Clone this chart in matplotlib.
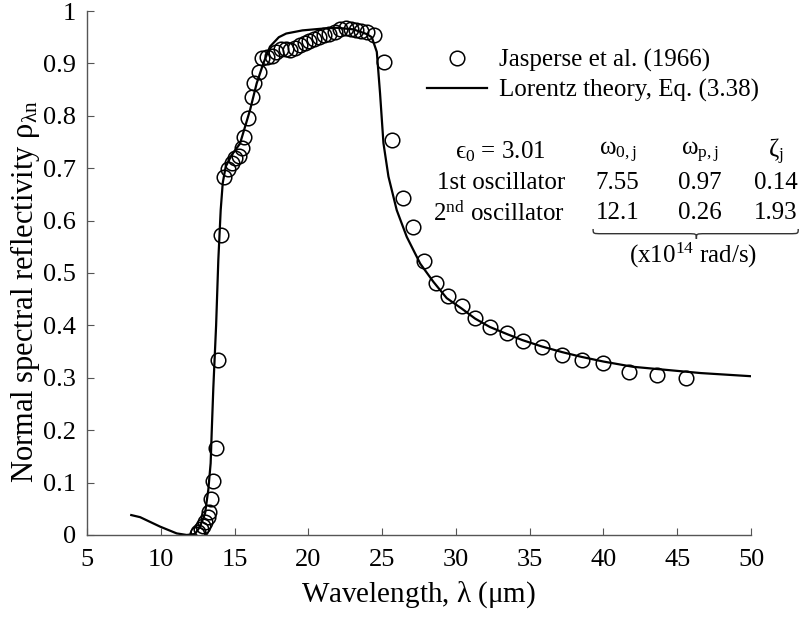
import numpy as np
import matplotlib
matplotlib.use("Agg")
import matplotlib.pyplot as plt
from matplotlib.path import Path
from matplotlib.patches import PathPatch

plt.rcParams["font.family"] = ["Liberation Serif", "DejaVu Serif"]
plt.rcParams["mathtext.fontset"] = "custom"
plt.rcParams["mathtext.rm"] = "Liberation Serif"
plt.rcParams["mathtext.it"] = "Liberation Serif:italic"

# measured reflectivity (Jasperse et al. 1966)
meas_wl = [12.44, 12.55, 12.71, 12.84, 13.00, 13.18, 13.27, 13.41, 13.52, 13.75,
           13.90, 14.06, 14.29, 14.58, 14.81, 15.03, 15.30, 15.49, 15.64, 15.89,
           16.16, 16.34, 16.66, 16.89, 17.18, 17.52, 17.81, 18.13, 18.47, 18.76,
           19.10, 19.44, 19.78, 20.07, 20.41, 20.75, 21.09, 21.43, 21.81, 22.15,
           22.54, 22.87, 23.23, 23.55, 23.96, 24.46, 25.10, 25.70, 26.40, 27.12,
           27.87, 28.66, 29.47, 30.40, 31.31, 32.32, 33.45, 34.54, 35.82, 37.18,
           38.54, 40.00, 41.76, 43.62, 45.61]
meas_refl = [0.002, 0.006, 0.011, 0.018, 0.025, 0.035, 0.044, 0.069, 0.103, 0.166,
             0.334, 0.572, 0.683, 0.698, 0.709, 0.719, 0.724, 0.738, 0.760, 0.795,
             0.835, 0.863, 0.884, 0.910, 0.912, 0.915, 0.922, 0.927, 0.927, 0.926,
             0.930, 0.935, 0.938, 0.943, 0.947, 0.951, 0.954, 0.957, 0.960, 0.966,
             0.968, 0.966, 0.964, 0.962, 0.959, 0.955, 0.903, 0.754, 0.643, 0.588,
             0.523, 0.480, 0.456, 0.437, 0.415, 0.396, 0.385, 0.371, 0.359, 0.344,
             0.333, 0.328, 0.312, 0.305, 0.300]

# Lorentz two-oscillator fit
lor_wl = [8.0, 8.6, 9.95, 11.08, 11.76, 12.32, 12.66, 13.0, 13.22, 13.38,
          13.45, 13.56, 13.75, 13.9, 14.06, 14.2, 14.4, 14.8, 15.37, 16.05,
          16.5, 16.95, 17.4, 18.0, 18.5, 19.6, 20.8, 21.9, 23.05, 23.96,
          24.3, 24.64, 24.86, 25.09, 25.43, 25.99, 26.67, 27.58, 28.48, 29.38,
          30.4, 31.3, 32.3, 33.5, 34.5, 35.8, 37.2, 38.5, 40.0, 42.0,
          44.3, 46.6, 50.0]
lor_refl = [0.038, 0.034, 0.016, 0.003, 0.0, 0.002, 0.016, 0.041, 0.086, 0.137,
            0.195, 0.28, 0.40, 0.525, 0.62, 0.672, 0.703, 0.725, 0.747, 0.811,
            0.862, 0.90, 0.932, 0.950, 0.957, 0.963, 0.966, 0.968, 0.965, 0.956,
            0.950, 0.922, 0.843, 0.748, 0.684, 0.620, 0.569, 0.518, 0.483, 0.452,
            0.432, 0.413, 0.397, 0.383, 0.372, 0.360, 0.349, 0.340, 0.331, 0.321,
            0.315, 0.309, 0.303]

col_heads = [r"$\mathrm{\omega_{0,j}}$", r"$\mathrm{\omega_{p,j}}$", r"$\mathrm{\zeta_j}$"]
row_names = ["1st oscillator", r"2$^{\mathrm{nd}}$ oscillator"]
osc_vals = [["7.55", "0.97", "0.14"],
            ["12.1", "0.26", "1.93"]]

fig = plt.figure(figsize=(8, 6.22), dpi=100)
ax = fig.add_axes([0.10875, 0.1399, 0.83, 0.8424])

ax.plot(lor_wl, lor_refl, color="black", lw=1.6, label="Lorentz theory, Eq. (3.38)")
ax.plot(meas_wl, meas_refl, linestyle="none", marker="o", ms=10.5, mfc="none",
        mec="black", mew=1.1, label="Jasperse et al. (1966)")

ax.set_xlim(5, 50)
ax.set_ylim(0, 1)
ax.set_xticks(range(5, 51, 5))
ax.set_yticks(np.arange(0, 1.01, 0.1))
ax.set_yticklabels(["0"] + [f"{v:.1f}" for v in np.arange(0.1, 0.95, 0.1)] + ["1"])
for s in ["top", "right"]:
    ax.spines[s].set_visible(False)
for s in ["left", "bottom"]:
    ax.spines[s].set_color("#555555")
    ax.spines[s].set_linewidth(1.0)
ax.tick_params(direction="in", length=5, color="#555555", labelsize=19)
ax.tick_params(axis="x", pad=10)
ax.tick_params(axis="y", pad=8)

ax.set_xlabel(r"Wavelength, $\mathrm{\lambda}$ ($\mathrm{\mu}$m)", fontsize=21, labelpad=6)
ax.set_ylabel(r"Normal spectral reflectivity $\mathrm{\rho_{\lambda n}}$", fontsize=22)
ax.yaxis.set_label_coords(-0.068, 0.465)

h, l = ax.get_legend_handles_labels()
fig.legend(h[::-1], l[::-1], loc="upper left", bbox_to_anchor=(427 / 800, 1 - 49 / 622),
           frameon=False, fontsize=18, handlelength=2.4, handletextpad=0.5,
           labelspacing=0.28, borderpad=0, borderaxespad=0)

# oscillator parameter table
fs = 18
ax.text(33.0, 0.731, "\u03f5$_\\mathrm{0}$ = 3.01", fontsize=fs, ha="center", va="center")
col_x = [40.95, 46.55, 51.7]
for x, txt in zip(col_x, col_heads):
    ax.text(x, 0.731, txt, fontsize=fs, ha="center", va="center", clip_on=False)
for r, (name, vals) in enumerate(zip(row_names, osc_vals)):
    y = 0.672 - r * 0.058
    ax.text(37.4, y, name, fontsize=fs, ha="right", va="center")
    for x, v in zip(col_x, vals):
        ax.text(x, y, v, fontsize=fs, ha="center", va="center", clip_on=False)

# curly brace under the oscillator columns
x0, x1, xm = 39.3, 53.2, 46.3
yt, yf, yb = 0.584, 0.575, 0.565
dx = 0.6
verts = [(x0, yt), (x0, yf), (x0, yf), (x0 + dx, yf),
         (xm - dx, yf), (xm, yf), (xm, yf), (xm, yb),
         (xm, yf), (xm, yf), (xm + dx, yf),
         (x1 - dx, yf), (x1, yf), (x1, yf), (x1, yt)]
codes = [Path.MOVETO, Path.CURVE4, Path.CURVE4, Path.CURVE4,
         Path.LINETO, Path.CURVE4, Path.CURVE4, Path.CURVE4,
         Path.CURVE4, Path.CURVE4, Path.CURVE4,
         Path.LINETO, Path.CURVE4, Path.CURVE4, Path.CURVE4]
ax.add_patch(PathPatch(Path(verts, codes), fill=False, lw=1.0, ec="#333333", clip_on=False))
ax.text(46.1, 0.534, r"(x10$^{14}$ rad/s)", fontsize=fs, ha="center", va="center")

fig.savefig("out.png", dpi=100)
